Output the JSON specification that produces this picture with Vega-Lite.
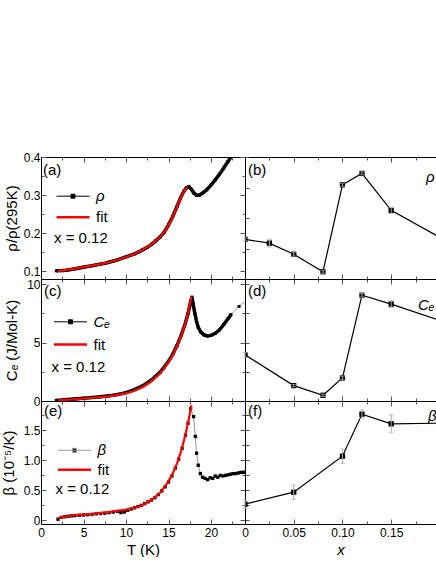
{
  "$schema": "https://vega.github.io/schema/vega-lite/v6.json",
  "datasets": {
    "rho": [
      {"T":1.8,"v":0.1015},{"T":2.5,"v":0.102},{"T":3.0,"v":0.103},{"T":3.5,"v":0.105},{"T":4.0,"v":0.107},{"T":4.5,"v":0.109},{"T":5.0,"v":0.111},{"T":5.5,"v":0.113},{"T":6.0,"v":0.115},{"T":6.5,"v":0.117},{"T":7.0,"v":0.119},{"T":7.5,"v":0.121},{"T":8.0,"v":0.124},{"T":8.5,"v":0.127},{"T":9.0,"v":0.130},{"T":9.5,"v":0.134},{"T":10.0,"v":0.138},{"T":10.5,"v":0.142},{"T":11.0,"v":0.146},{"T":11.5,"v":0.151},{"T":12.0,"v":0.157},{"T":12.5,"v":0.163},{"T":13.0,"v":0.171},{"T":13.5,"v":0.180},{"T":14.0,"v":0.190},{"T":14.5,"v":0.203},{"T":15.0,"v":0.222},{"T":15.5,"v":0.244},{"T":16.0,"v":0.270},{"T":16.4,"v":0.292},{"T":16.8,"v":0.310},{"T":17.1,"v":0.319},{"T":17.4,"v":0.322},{"T":17.7,"v":0.315},{"T":18.0,"v":0.305},{"T":18.3,"v":0.300},{"T":18.6,"v":0.300},{"T":19.0,"v":0.305},{"T":19.5,"v":0.314},{"T":20.0,"v":0.326},{"T":20.5,"v":0.340},{"T":21.0,"v":0.355},{"T":21.5,"v":0.371},{"T":22.0,"v":0.388},{"T":22.5,"v":0.405}
    ],
    "rhofit": [
      {"T":2.0,"v":0.101},{"T":3.0,"v":0.104},{"T":4.0,"v":0.107},{"T":5.0,"v":0.111},{"T":6.0,"v":0.115},{"T":7.0,"v":0.119},{"T":8.0,"v":0.124},{"T":9.0,"v":0.130},{"T":10.0,"v":0.137},{"T":11.0,"v":0.146},{"T":12.0,"v":0.157},{"T":13.0,"v":0.171},{"T":14.0,"v":0.190},{"T":14.5,"v":0.203},{"T":15.0,"v":0.221},{"T":15.5,"v":0.243},{"T":16.0,"v":0.269},{"T":16.5,"v":0.296},{"T":17.0,"v":0.316},{"T":17.2,"v":0.321}
    ],
    "ce": [
      {"T":1.8,"v":0.05},{"T":3.0,"v":0.12},{"T":4.0,"v":0.18},{"T":5.0,"v":0.24},{"T":6.0,"v":0.30},{"T":7.0,"v":0.36},{"T":8.0,"v":0.44},{"T":9.0,"v":0.55},{"T":10.0,"v":0.72},{"T":11.0,"v":0.98},{"T":12.0,"v":1.32},{"T":13.0,"v":1.80},{"T":14.0,"v":2.45},{"T":14.5,"v":2.90},{"T":15.0,"v":3.40},{"T":15.5,"v":4.00},{"T":16.0,"v":4.75},{"T":16.5,"v":5.65},{"T":17.0,"v":6.70},{"T":17.3,"v":7.50},{"T":17.6,"v":8.50},{"T":17.75,"v":8.90},{"T":17.9,"v":8.30},{"T":18.1,"v":7.50},{"T":18.3,"v":6.80},{"T":18.5,"v":6.30},{"T":18.8,"v":5.90},{"T":19.2,"v":5.65},{"T":19.6,"v":5.58},{"T":20.0,"v":5.62},{"T":20.5,"v":5.80},{"T":21.0,"v":6.10},{"T":21.5,"v":6.55},{"T":22.0,"v":7.05},{"T":22.35,"v":7.40},{"T":23.3,"v":8.10},{"T":24.3,"v":8.70}
    ],
    "cefit": [
      {"T":2.0,"v":0.05},{"T":4.0,"v":0.15},{"T":6.0,"v":0.27},{"T":8.0,"v":0.40},{"T":10.0,"v":0.65},{"T":11.0,"v":0.88},{"T":12.0,"v":1.20},{"T":13.0,"v":1.68},{"T":14.0,"v":2.35},{"T":15.0,"v":3.30},{"T":15.5,"v":3.92},{"T":16.0,"v":4.70},{"T":16.5,"v":5.60},{"T":17.0,"v":6.65},{"T":17.3,"v":7.50},{"T":17.6,"v":8.60},{"T":17.7,"v":8.95}
    ],
    "beta": [
      {"T":2.0,"v":0.02},{"T":2.4,"v":0.05},{"T":2.8,"v":0.06},{"T":3.2,"v":0.07},{"T":3.6,"v":0.075},{"T":4.0,"v":0.08},{"T":4.5,"v":0.085},{"T":5.0,"v":0.09},{"T":5.5,"v":0.095},{"T":6.0,"v":0.10},{"T":6.5,"v":0.11},{"T":7.0,"v":0.115},{"T":7.5,"v":0.12},{"T":8.0,"v":0.13},{"T":8.5,"v":0.14},{"T":9.0,"v":0.15},{"T":9.4,"v":0.13},{"T":9.8,"v":0.14},{"T":10.2,"v":0.17},{"T":10.6,"v":0.19},{"T":11.0,"v":0.21},{"T":11.4,"v":0.23},{"T":11.8,"v":0.25},{"T":12.2,"v":0.28},{"T":12.6,"v":0.31},{"T":13.0,"v":0.34},{"T":13.4,"v":0.38},{"T":13.8,"v":0.43},{"T":14.2,"v":0.49},{"T":14.6,"v":0.56},{"T":15.0,"v":0.64},{"T":15.4,"v":0.74},{"T":15.8,"v":0.87},{"T":16.2,"v":1.02},{"T":16.6,"v":1.20},{"T":17.0,"v":1.42},{"T":17.3,"v":1.62},{"T":17.6,"v":1.86},{"T":17.95,"v":1.73},{"T":18.15,"v":1.40},{"T":18.3,"v":1.12},{"T":18.5,"v":0.92},{"T":18.75,"v":0.78},{"T":19.0,"v":0.72},{"T":19.3,"v":0.70},{"T":19.6,"v":0.68},{"T":19.9,"v":0.71},{"T":20.2,"v":0.70},{"T":20.5,"v":0.74},{"T":20.8,"v":0.72},{"T":21.1,"v":0.75},{"T":21.4,"v":0.74},{"T":21.7,"v":0.75},{"T":22.0,"v":0.76},{"T":22.3,"v":0.77},{"T":22.6,"v":0.78},{"T":22.9,"v":0.78},{"T":23.2,"v":0.79},{"T":23.5,"v":0.80},{"T":23.8,"v":0.80},{"T":24.1,"v":0.81}
    ],
    "betafit": [
      {"T":2.0,"v":0.04},{"T":4.0,"v":0.09},{"T":6.0,"v":0.11},{"T":8.0,"v":0.14},{"T":10.0,"v":0.18},{"T":11.0,"v":0.21},{"T":12.0,"v":0.26},{"T":13.0,"v":0.34},{"T":14.0,"v":0.46},{"T":15.0,"v":0.65},{"T":15.5,"v":0.78},{"T":16.0,"v":0.95},{"T":16.5,"v":1.16},{"T":17.0,"v":1.43},{"T":17.4,"v":1.70},{"T":17.7,"v":1.92}
    ],
    "xrho": [
      {"x":0,"v":0.184,"err":0.004},{"x":0.025,"v":0.174,"err":0.01},{"x":0.05,"v":0.145,"err":0.005},{"x":0.08,"v":0.099,"err":0.004},{"x":0.10,"v":0.327,"err":0.004},{"x":0.12,"v":0.357,"err":0.004},{"x":0.15,"v":0.260,"err":0.008},{"x":0.2,"v":0.189,"err":0.005}
    ],
    "xce": [
      {"x":0,"v":3.96,"err":0.2},{"x":0.05,"v":1.32,"err":0.1},{"x":0.08,"v":0.49,"err":0.1},{"x":0.10,"v":1.97,"err":0.15},{"x":0.12,"v":9.06,"err":0.15},{"x":0.15,"v":8.30,"err":0.3},{"x":0.2,"v":6.91,"err":0.2}
    ],
    "xbeta": [
      {"x":0,"v":0.27,"err":0.07},{"x":0.05,"v":0.47,"err":0.12},{"x":0.10,"v":1.07,"err":0.12},{"x":0.12,"v":1.77,"err":0.07},{"x":0.15,"v":1.61,"err":0.15},{"x":0.2,"v":1.62,"err":0.1}
    ]
  },
  "columns": 2,
  "spacing": 0,
  "bounds": "flush",
  "padding": {"left": 1, "top": 151, "right": 0, "bottom": 0},
  "resolve": {"scale": {"color": "independent"}, "legend": {"color": "independent"}},
  "concat": [
    {
      "width": 204, "height": 122,
      "title": {"text": "(a)", "orient": "top", "anchor": "start", "frame": "group", "offset": -33.5, "baseline": "middle", "dx": 2},
      "layer": [
        {
          "data": {"name": "rho"},
          "layer": [
            {"mark": {"type": "line", "strokeWidth": 3.5, "clip": true}},
            {"mark": {"type": "point", "shape": "square", "filled": true, "size": 9, "opacity": 1, "clip": true}}
          ],
          "encoding": {
            "x": {"field": "T", "type": "quantitative", "scale": {"domain": [0, 24], "nice": false, "zero": false},
                  "axis": {"orient": "bottom", "values": [0,2.5,5,7.5,10,12.5,15,17.5,20,22.5], "labels": false, "title": null,
                           "tickSize": {"condition": {"test": "datum.value % 5 === 0", "value": -5}, "value": -3}}},
            "y": {"field": "v", "type": "quantitative", "scale": {"domain": [0.08, 0.4], "nice": false, "zero": false},
                  "axis": {"orient": "left", "values": [0.1,0.15,0.2,0.25,0.3,0.35,0.4], "title": "ρ/ρ(295K)", "titlePadding": 4, "labelPadding": 6,
                           "labelExpr": "abs(round(datum.value*100) % 10) === 0 ? format(datum.value, '.1f') : ''",
                           "tickSize": {"condition": {"test": "abs(round(datum.value*100) % 10) === 0", "value": -5}, "value": -3}}},
            "color": {"datum": "ρ", "scale": {"domain": ["ρ", "fit", "x = 0.12"], "range": ["black", "red", "transparent"]},
                      "legend": {"orient": "none", "legendX": 24.5, "legendY": 31.7, "title": null, "symbolSize": 1089, "labelOffset": 15.5, "rowPadding": 5,
                                 "encode": {
                                   "symbols": {"update": {
                                     "shape": {"signal": "datum.value === 'fit' ? 'M-1,0H1' : 'M-1,0H1M-0.12,-0.12H0.12V0.12H-0.12Z'"},
                                     "fill": {"signal": "datum.value === 'fit' ? 'transparent' : 'black'"},
                                     "stroke": {"signal": "datum.value === 'fit' ? 'red' : '#999'"},
                                     "strokeWidth": {"signal": "datum.value === 'fit' ? 2.5 : 1"},
                                     "opacity": {"signal": "datum.value === 'x = 0.12' ? 0 : 1"}}},
                                   "labels": {"update": {
                                     "fontStyle": {"signal": "datum.value === 'fit' || datum.value === 'x = 0.12' ? 'normal' : 'italic'"},
                                     "dx": {"signal": "datum.value === 'x = 0.12' ? -42 : 0"}}}}}}
          }
        },
        {
          "data": {"name": "rhofit"},
          "mark": {"type": "line", "strokeWidth": 2.2, "clip": true},
          "encoding": {
            "x": {"field": "T", "type": "quantitative", "scale": {"domain": [0, 24], "nice": false, "zero": false},
                  "axis": {"orient": "top", "values": [0,2.5,5,7.5,10,12.5,15,17.5,20,22.5], "labels": false, "title": null,
                           "tickSize": {"condition": {"test": "datum.value % 5 === 0", "value": -5}, "value": -3}}},
            "y": {"field": "v", "type": "quantitative", "scale": {"domain": [0.08, 0.4], "nice": false, "zero": false},
                  "axis": {"orient": "right", "values": [0.1,0.15,0.2,0.25,0.3,0.35,0.4], "labels": false, "title": null,
                           "tickSize": {"condition": {"test": "abs(round(datum.value*100) % 10) === 0", "value": -5}, "value": -3}}},
            "color": {"datum": "fit"}
          }
        }
      ],
      "resolve": {"scale": {"x": "independent", "y": "independent"}}
    },
    {
      "width": 191, "height": 122,
      "title": {"text": "(b)", "orient": "top", "anchor": "start", "frame": "group", "offset": -28.5, "baseline": "middle", "dx": 3},
      "layer": [
        {
          "data": {"name": "xrho"},
          "layer": [
            {"mark": {"type": "line", "strokeWidth": 1.2, "clip": true}},
            {"mark": {"type": "point", "shape": "square", "filled": true, "size": 28, "opacity": 1, "clip": true}}
          ],
          "encoding": {
            "x": {"field": "x", "type": "quantitative", "scale": {"domain": [0, 0.196], "nice": false, "zero": false},
                  "axis": {"orient": "bottom", "values": [0,0.025,0.05,0.075,0.1,0.125,0.15,0.175], "labels": false, "title": null,
                           "tickSize": {"condition": {"test": "abs(round(datum.value*1000) % 50) === 0", "value": -5}, "value": -3}}},
            "y": {"field": "v", "type": "quantitative", "scale": {"domain": [0.08, 0.4], "nice": false, "zero": false},
                  "axis": {"orient": "left", "values": [0.08,0.16,0.24,0.32,0.4], "labels": false, "title": null, "tickSize": -4}},
            "color": {"datum": "ρ", "scale": {"domain": ["ρ"], "range": ["black"]},
                      "legend": {"orient": "none", "legendX": 166, "legendY": 12, "title": null, "symbolSize": 1, "symbolOpacity": 0, "labelOffset": 0, "labelFontStyle": "italic"}}
          }
        },
        {
          "data": {"name": "xrho"},
          "transform": [{"filter": "datum.x < 0.19"}],
          "mark": {"type": "errorbar", "color": "#aaaaaa", "ticks": {"size": 5, "color": "#aaaaaa"}},
          "encoding": {
            "x": {"field": "x", "type": "quantitative", "scale": {"domain": [0, 0.196], "nice": false, "zero": false},
                  "axis": {"orient": "top", "values": [0,0.025,0.05,0.075,0.1,0.125,0.15,0.175], "labels": false, "title": null,
                           "tickSize": {"condition": {"test": "abs(round(datum.value*1000) % 50) === 0", "value": -5}, "value": -3}}},
            "y": {"field": "v", "type": "quantitative", "scale": {"domain": [0.08, 0.4], "nice": false, "zero": false}, "axis": null},
            "yError": {"field": "err"}
          }
        }
      ],
      "resolve": {"scale": {"x": "independent", "y": "independent"}}
    },
    {
      "width": 204, "height": 122,
      "title": {"text": "(c)", "orient": "top", "anchor": "start", "frame": "group", "offset": -27.5, "baseline": "middle", "dx": 3},
      "layer": [
        {
          "data": {"name": "ce"},
          "layer": [
            {"mark": {"type": "line", "strokeWidth": 1, "clip": true}, "encoding": {"color": {"value": "#999999"}}},
            {"transform": [{"filter": "datum.T <= 22.4"}], "mark": {"type": "line", "strokeWidth": 3.5, "clip": true}},
            {"mark": {"type": "point", "shape": "square", "filled": true, "size": 9, "opacity": 1, "clip": true}}
          ],
          "encoding": {
            "x": {"field": "T", "type": "quantitative", "scale": {"domain": [0, 24], "nice": false, "zero": false},
                  "axis": {"orient": "bottom", "values": [0,2.5,5,7.5,10,12.5,15,17.5,20,22.5], "labels": false, "title": null,
                           "tickSize": {"condition": {"test": "datum.value % 5 === 0", "value": -5}, "value": -3}}},
            "y": {"field": "v", "type": "quantitative", "scale": {"domain": [0, 10.45], "nice": false, "zero": false},
                  "axis": {"orient": "left", "values": [0,2.5,5,7.5,10], "title": "Cₑ (J/Mol-K)", "titlePadding": 7, "labelPadding": 6,
                           "labelExpr": "datum.value % 5 === 0 ? datum.label : ''",
                           "tickSize": {"condition": {"test": "datum.value % 5 === 0", "value": -5}, "value": -3}}},
            "color": {"datum": "Cₑ", "scale": {"domain": ["Cₑ", "fit", "x = 0.12"], "range": ["black", "red", "transparent"]},
                      "legend": {"orient": "none", "legendX": 22, "legendY": 35.3, "title": null, "symbolSize": 1089, "labelOffset": 15.5, "rowPadding": 6.7,
                                 "encode": {
                                   "symbols": {"update": {
                                     "shape": {"signal": "datum.value === 'fit' ? 'M-1,0H1' : 'M-1,0H1M-0.12,-0.12H0.12V0.12H-0.12Z'"},
                                     "fill": {"signal": "datum.value === 'fit' ? 'transparent' : 'black'"},
                                     "stroke": {"signal": "datum.value === 'fit' ? 'red' : '#999'"},
                                     "strokeWidth": {"signal": "datum.value === 'fit' ? 2.5 : 1"},
                                     "opacity": {"signal": "datum.value === 'x = 0.12' ? 0 : 1"}}},
                                   "labels": {"update": {
                                     "fontStyle": {"signal": "datum.value === 'fit' || datum.value === 'x = 0.12' ? 'normal' : 'italic'"},
                                     "dx": {"signal": "datum.value === 'x = 0.12' ? -42 : 0"}}}}}}
          }
        },
        {
          "data": {"name": "cefit"},
          "mark": {"type": "line", "strokeWidth": 2.2, "clip": true},
          "encoding": {
            "x": {"field": "T", "type": "quantitative", "scale": {"domain": [0, 24], "nice": false, "zero": false},
                  "axis": {"orient": "top", "values": [0,2.5,5,7.5,10,12.5,15,17.5,20,22.5], "labels": false, "title": null,
                           "tickSize": {"condition": {"test": "datum.value % 5 === 0", "value": -5}, "value": -3}}},
            "y": {"field": "v", "type": "quantitative", "scale": {"domain": [0, 10.45], "nice": false, "zero": false},
                  "axis": {"orient": "right", "values": [0,2.5,5,7.5,10], "labels": false, "title": null,
                           "tickSize": {"condition": {"test": "datum.value % 5 === 0", "value": -5}, "value": -3}}},
            "color": {"datum": "fit"}
          }
        }
      ],
      "resolve": {"scale": {"x": "independent", "y": "independent"}}
    },
    {
      "width": 191, "height": 122,
      "title": {"text": "(d)", "orient": "top", "anchor": "start", "frame": "group", "offset": -27.5, "baseline": "middle", "dx": 3},
      "layer": [
        {
          "data": {"name": "xce"},
          "layer": [
            {"mark": {"type": "line", "strokeWidth": 1.2, "clip": true}},
            {"mark": {"type": "point", "shape": "square", "filled": true, "size": 28, "opacity": 1, "clip": true}}
          ],
          "encoding": {
            "x": {"field": "x", "type": "quantitative", "scale": {"domain": [0, 0.196], "nice": false, "zero": false},
                  "axis": {"orient": "bottom", "values": [0,0.025,0.05,0.075,0.1,0.125,0.15,0.175], "labels": false, "title": null,
                           "tickSize": {"condition": {"test": "abs(round(datum.value*1000) % 50) === 0", "value": -5}, "value": -3}}},
            "y": {"field": "v", "type": "quantitative", "scale": {"domain": [0, 10.45], "nice": false, "zero": false},
                  "axis": {"orient": "left", "values": [0,2.5,5,7.5,10], "labels": false, "title": null, "tickSize": -4}},
            "color": {"datum": "Cₑ", "scale": {"domain": ["Cₑ"], "range": ["black"]},
                      "legend": {"orient": "none", "legendX": 158, "legendY": 18, "title": null, "symbolSize": 1, "symbolOpacity": 0, "labelOffset": 0, "labelFontStyle": "italic"}}
          }
        },
        {
          "data": {"name": "xce"},
          "transform": [{"filter": "datum.x < 0.19"}],
          "mark": {"type": "errorbar", "color": "#aaaaaa", "ticks": {"size": 5, "color": "#aaaaaa"}},
          "encoding": {
            "x": {"field": "x", "type": "quantitative", "scale": {"domain": [0, 0.196], "nice": false, "zero": false},
                  "axis": {"orient": "top", "values": [0,0.025,0.05,0.075,0.1,0.125,0.15,0.175], "labels": false, "title": null,
                           "tickSize": {"condition": {"test": "abs(round(datum.value*1000) % 50) === 0", "value": -5}, "value": -3}}},
            "y": {"field": "v", "type": "quantitative", "scale": {"domain": [0, 10.45], "nice": false, "zero": false}, "axis": null},
            "yError": {"field": "err"}
          }
        }
      ],
      "resolve": {"scale": {"x": "independent", "y": "independent"}}
    },
    {
      "width": 204, "height": 123,
      "title": {"text": "(e)", "orient": "top", "anchor": "start", "frame": "group", "offset": -25.5, "baseline": "middle", "dx": 3},
      "layer": [
        {
          "data": {"name": "beta"},
          "layer": [
            {"mark": {"type": "line", "strokeWidth": 1, "clip": true}},
            {"mark": {"type": "point", "shape": "square", "filled": true, "size": 11, "opacity": 1, "clip": true}, "encoding": {"color": {"value": "black"}}}
          ],
          "encoding": {
            "x": {"field": "T", "type": "quantitative", "scale": {"domain": [0, 24], "nice": false, "zero": false},
                  "axis": {"orient": "bottom", "values": [0,2.5,5,7.5,10,12.5,15,17.5,20,22.5], "title": "T (K)", "labelPadding": 8,
                           "labelExpr": "datum.value % 5 === 0 ? datum.label : ''",
                           "tickSize": {"condition": {"test": "datum.value % 5 === 0", "value": -5}, "value": -3}}},
            "y": {"field": "v", "type": "quantitative", "scale": {"domain": [-0.06, 1.99], "nice": false, "zero": false},
                  "axis": {"orient": "left", "values": [0,0.25,0.5,0.75,1,1.25,1.5,1.75], "title": "β (10⁻⁵/K)", "titlePadding": 7, "labelPadding": 6,
                           "labelExpr": "datum.value === 0 ? '0' : (round(datum.value*100) % 50 === 0 ? format(datum.value, '.1f') : '')",
                           "tickSize": {"condition": {"test": "round(datum.value*100) % 50 === 0", "value": -5}, "value": -3}}},
            "color": {"datum": "β", "scale": {"domain": ["β", "fit", "x = 0.12"], "range": ["#999999", "red", "transparent"]},
                      "legend": {"orient": "none", "legendX": 26, "legendY": 41.8, "title": null, "symbolSize": 1089, "labelOffset": 15.5, "rowPadding": 3.5,
                                 "encode": {
                                   "symbols": {"update": {
                                     "shape": {"signal": "datum.value === 'fit' ? 'M-1,0H1' : 'M-1,0H1M-0.12,-0.12H0.12V0.12H-0.12Z'"},
                                     "fill": {"signal": "datum.value === 'fit' ? 'transparent' : 'black'"},
                                     "stroke": {"signal": "datum.value === 'fit' ? 'red' : '#999'"},
                                     "strokeWidth": {"signal": "datum.value === 'fit' ? 2.5 : 1"},
                                     "opacity": {"signal": "datum.value === 'x = 0.12' ? 0 : 1"}}},
                                   "labels": {"update": {
                                     "fontStyle": {"signal": "datum.value === 'fit' || datum.value === 'x = 0.12' ? 'normal' : 'italic'"},
                                     "dx": {"signal": "datum.value === 'x = 0.12' ? -42 : 0"}}}}}}
          }
        },
        {
          "data": {"name": "betafit"},
          "mark": {"type": "line", "strokeWidth": 2.2, "clip": true},
          "encoding": {
            "x": {"field": "T", "type": "quantitative", "scale": {"domain": [0, 24], "nice": false, "zero": false},
                  "axis": {"orient": "top", "values": [0,2.5,5,7.5,10,12.5,15,17.5,20,22.5], "labels": false, "title": null,
                           "tickSize": {"condition": {"test": "datum.value % 5 === 0", "value": -5}, "value": -3}}},
            "y": {"field": "v", "type": "quantitative", "scale": {"domain": [-0.06, 1.99], "nice": false, "zero": false},
                  "axis": {"orient": "right", "values": [0,0.25,0.5,0.75,1,1.25,1.5,1.75], "labels": false, "title": null,
                           "tickSize": {"condition": {"test": "round(datum.value*100) % 50 === 0", "value": -5}, "value": -3}}},
            "color": {"datum": "fit"}
          }
        }
      ],
      "resolve": {"scale": {"x": "independent", "y": "independent"}}
    },
    {
      "width": 191, "height": 123,
      "title": {"text": "(f)", "orient": "top", "anchor": "start", "frame": "group", "offset": -25.5, "baseline": "middle", "dx": 3},
      "layer": [
        {
          "data": {"name": "xbeta"},
          "layer": [
            {"mark": {"type": "line", "strokeWidth": 1.2, "clip": true}},
            {"mark": {"type": "point", "shape": "square", "filled": true, "size": 28, "opacity": 1, "clip": true}}
          ],
          "encoding": {
            "x": {"field": "x", "type": "quantitative", "scale": {"domain": [0, 0.196], "nice": false, "zero": false},
                  "axis": {"orient": "bottom", "values": [0,0.025,0.05,0.075,0.1,0.125,0.15,0.175], "title": "x", "titleFontStyle": "italic", "labelPadding": 8,
                           "labelExpr": "datum.value === 0 ? '0' : (abs(round(datum.value*1000) % 50) === 0 ? format(datum.value, '.2f') : '')",
                           "tickSize": {"condition": {"test": "abs(round(datum.value*1000) % 50) === 0", "value": -5}, "value": -3}}},
            "y": {"field": "v", "type": "quantitative", "scale": {"domain": [-0.06, 1.99], "nice": false, "zero": false},
                  "axis": {"orient": "left", "values": [0,0.25,0.5,0.75,1,1.25,1.5,1.75], "labels": false, "title": null, "tickSize": -4}},
            "color": {"datum": "β", "scale": {"domain": ["β"], "range": ["black"]},
                      "legend": {"orient": "none", "legendX": 168, "legendY": 7, "title": null, "symbolSize": 1, "symbolOpacity": 0, "labelOffset": 0, "labelFontStyle": "italic"}}
          }
        },
        {
          "data": {"name": "xbeta"},
          "transform": [{"filter": "datum.x < 0.19"}],
          "mark": {"type": "errorbar", "color": "#aaaaaa", "ticks": {"size": 5, "color": "#aaaaaa"}},
          "encoding": {
            "x": {"field": "x", "type": "quantitative", "scale": {"domain": [0, 0.196], "nice": false, "zero": false},
                  "axis": {"orient": "top", "values": [0,0.025,0.05,0.075,0.1,0.125,0.15,0.175], "labels": false, "title": null,
                           "tickSize": {"condition": {"test": "abs(round(datum.value*1000) % 50) === 0", "value": -5}, "value": -3}}},
            "y": {"field": "v", "type": "quantitative", "scale": {"domain": [-0.06, 1.99], "nice": false, "zero": false}, "axis": null},
            "yError": {"field": "err"}
          }
        }
      ],
      "resolve": {"scale": {"x": "independent", "y": "independent"}}
    }
  ],
  "config": {
    "font": "Liberation Sans",
    "view": {"stroke": null},
    "axis": {"grid": false, "domainColor": "black", "domainWidth": 1, "tickColor": "#555555", "tickWidth": 1,
             "labelFontSize": 12, "labelColor": "black", "labelPadding": 4, "labelFlush": false, "labelOverlap": false, "labelBound": false,
             "titleFontSize": 15, "titleFontWeight": "normal", "titleColor": "black", "titlePadding": 2},
    "legend": {"labelFontSize": 15, "labelColor": "black", "labelFont": "Liberation Sans"},
    "title": {"fontSize": 15, "fontWeight": "normal", "color": "black", "font": "Liberation Sans"}
  }
}
